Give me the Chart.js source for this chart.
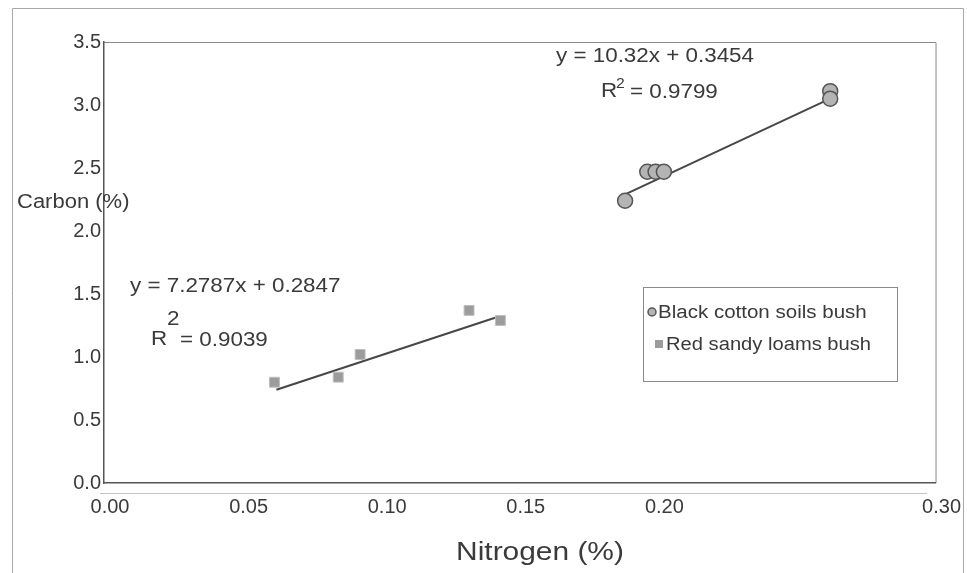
<!DOCTYPE html>
<html>
<head>
<meta charset="utf-8">
<script src="https://cdn.jsdelivr.net/npm/chart.js@4"></script>
<style>
  html, body { margin: 0; padding: 0; background: #fff; }
  canvas { display: block; }
</style>
</head>
<body>
<canvas id="chart" width="967" height="573"></canvas>
<script>
// values
const blackN = [0.188, 0.196, 0.199, 0.202, 0.262, 0.262];
const blackC = [2.24, 2.47, 2.47, 2.47, 3.11, 3.05];
const redN = [0.0615, 0.0845, 0.0924, 0.1317, 0.143];
const redC = [0.80, 0.84, 1.02, 1.37, 1.29];

// trend line end points
const blackTrendN = [0.188, 0.262];
const blackTrendC = [2.29, 3.05];
const redTrendN = [0.0622, 0.143];
const redTrendC = [0.74, 1.325];

const seriesNames = ['Black cotton soils bush', 'Red sandy loams bush'];
const xTicks = [0, 0.05, 0.10, 0.15, 0.20, 0.25, 0.30];
const hiddenXTicks = [0.25];

const toPoints = (xs, ys) => xs.map((x, i) => ({ x: x, y: ys[i] }));

const FONT = '"Liberation Sans", Arial, sans-serif';
const TEXT = '#3a3a3a';

Chart.defaults.font.family = FONT;
Chart.defaults.color = TEXT;

function stretchText(ctx, s, x, y, size, sx) {
  ctx.save();
  ctx.translate(x, y);
  ctx.scale(sx, 1);
  ctx.font = size + 'px ' + FONT;
  ctx.fillText(s, 0, 0);
  ctx.restore();
}

const decorations = {
  id: 'decorations',
  beforeDraw(chart) {
    const ctx = chart.ctx;
    const a = chart.chartArea;
    ctx.save();
    // outer frame
    ctx.strokeStyle = '#a8a8a8';
    ctx.lineWidth = 1;
    ctx.beginPath();
    ctx.moveTo(12.5, 573);
    ctx.lineTo(12.5, 8.5);
    ctx.lineTo(963.5, 8.5);
    ctx.lineTo(963.5, 573);
    ctx.stroke();
    // faint line under the axis
    ctx.strokeStyle = '#c4c4c4';
    ctx.beginPath();
    ctx.moveTo(100, a.bottom + 10.5);
    ctx.lineTo(927, a.bottom + 10.5);
    ctx.stroke();
    // plot box top and right
    ctx.strokeStyle = '#8a8a8a';
    ctx.beginPath();
    ctx.moveTo(a.left, a.top + 0.5);
    ctx.lineTo(a.right + 0.5, a.top + 0.5);
    ctx.lineTo(a.right + 0.5, a.bottom);
    ctx.stroke();
    ctx.restore();
  },
  afterDraw(chart) {
    const ctx = chart.ctx;
    ctx.save();
    ctx.fillStyle = TEXT;
    ctx.textBaseline = 'middle';
    ctx.textAlign = 'left';

    // axis titles
    stretchText(ctx, 'Carbon (%)', 17, 202, 20, 1.1);
    ctx.textAlign = 'center';
    stretchText(ctx, 'Nitrogen (%)', 540, 553, 26, 1.15);
    ctx.textAlign = 'left';

    // regression labels
    stretchText(ctx, 'y = 10.32x + 0.3454', 556, 56, 20, 1.12);
    stretchText(ctx, 'R', 601, 91, 20, 1.12);
    stretchText(ctx, '2', 616, 84, 14, 1.12);
    stretchText(ctx, '= 0.9799', 630, 92, 20, 1.12);

    stretchText(ctx, 'y = 7.2787x + 0.2847', 130, 286, 20, 1.12);
    stretchText(ctx, 'R', 151, 339, 20, 1.12);
    stretchText(ctx, '2', 167, 319, 20, 1.12);
    stretchText(ctx, '= 0.9039', 180, 340, 20, 1.12);

    // legend box
    ctx.strokeStyle = '#8a8a8a';
    ctx.lineWidth = 1;
    ctx.strokeRect(643.5, 287.5, 254, 94);
    const ds = chart.data.datasets;
    // circle marker
    ctx.beginPath();
    ctx.arc(652, 312, 4, 0, Math.PI * 2);
    ctx.fillStyle = ds[0].backgroundColor;
    ctx.fill();
    ctx.strokeStyle = ds[0].borderColor;
    ctx.lineWidth = 1.5;
    ctx.stroke();
    // square marker
    ctx.fillStyle = ds[1].backgroundColor;
    ctx.fillRect(655, 340, 8, 8);
    ctx.fillStyle = TEXT;
    stretchText(ctx, ds[0].label, 658, 313, 18, 1.14);
    stretchText(ctx, ds[1].label, 666, 345, 18, 1.12);
    ctx.restore();
  }
};

new Chart(document.getElementById('chart').getContext('2d'), {
  type: 'scatter',
  data: {
    datasets: [
      {
        label: seriesNames[0],
        data: toPoints(blackN, blackC),
        pointStyle: 'circle',
        pointRadius: 7.5,
        backgroundColor: '#b4b4b4',
        borderColor: '#555555',
        borderWidth: 1.5,
      },
      {
        label: seriesNames[1],
        data: toPoints(redN, redC),
        pointStyle: 'rect',
        pointRadius: 7,
        backgroundColor: '#9c9c9c',
        borderColor: '#bdbdbd',
        borderWidth: 1,
      },
      {
        label: 'trend black',
        data: toPoints(blackTrendN, blackTrendC),
        showLine: true,
        pointRadius: 0,
        borderColor: '#474747',
        borderWidth: 2,
      },
      {
        label: 'trend red',
        data: toPoints(redTrendN, redTrendC),
        showLine: true,
        pointRadius: 0,
        borderColor: '#474747',
        borderWidth: 2,
      },
    ],
  },
  options: {
    responsive: false,
    animation: false,
    layout: { padding: { left: 0, top: 42, right: 29, bottom: 0 } },
    plugins: {
      legend: { display: false },
      tooltip: { enabled: false },
    },
    scales: {
      x: {
        type: 'linear',
        min: 0,
        max: 0.3,
        afterFit: (scale) => { scale.height = 90; },
        afterBuildTicks: (scale) => { scale.ticks = xTicks.map((v) => ({ value: v })); },
        grid: { display: false, drawTicks: false },
        border: { display: true, color: '#555555', width: 1.5 },
        ticks: {
          autoSkip: false,
          maxRotation: 0,
          padding: 12,
          labelOffset: 6,
          color: TEXT,
          font: { size: 20 },
          callback: (v) => hiddenXTicks.some((h) => Math.abs(h - v) < 1e-9) ? '' : Number(v).toFixed(2),
        },
      },
      y: {
        type: 'linear',
        min: 0,
        max: 3.5,
        afterFit: (scale) => { scale.width = 104; },
        grid: { display: false, drawTicks: false },
        border: { display: true, color: '#555555', width: 1.5 },
        ticks: {
          stepSize: 0.5,
          padding: 3,
          color: TEXT,
          font: { size: 20 },
          callback: (v) => Number(v).toFixed(1),
        },
      },
    },
  },
  plugins: [decorations],
});
</script>
</body>
</html>
